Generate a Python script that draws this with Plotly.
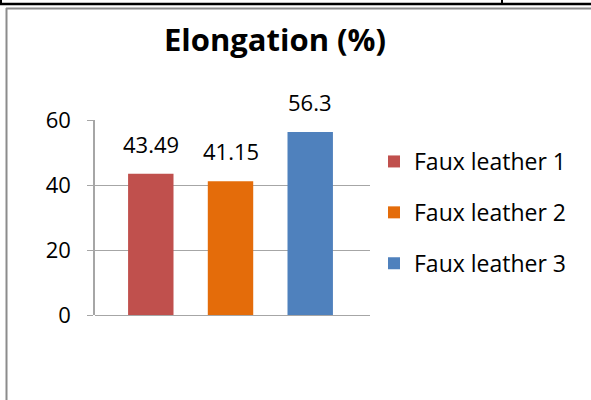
import plotly.graph_objects as go

categories = ["Faux leather 1", "Faux leather 2", "Faux leather 3"]
values = [43.49, 41.15, 56.3]
value_labels = ["43.49", "41.15", "56.3"]
colors = ["#C0504D", "#E46C0A", "#4F81BD"]
tick_vals = [0, 20, 40, 60]

W, H = 591, 400
ML, MR, MT, MB = 95, 221, 120, 85
PW = W - ML - MR
PH = H - MT - MB

def px(x):
    return (x - ML) / PW

def py(y):
    return 1 - (y - MT) / PH

FONT = "Open Sans, Lato, Liberation Sans, sans-serif"

fig = go.Figure()
for i, (cat, val, col) in enumerate(zip(categories, values, colors)):
    fig.add_trace(go.Bar(
        x=[i], y=[val], name=cat, width=0.57,
        marker=dict(color=col, line=dict(width=0)),
        legendgroup=cat, showlegend=True,
    ))

annotations = []
for i, (val, lab) in enumerate(zip(values, value_labels)):
    annotations.append(dict(
        x=i, y=val, xref="x", yref="y", text=lab, showarrow=False,
        yanchor="middle", yshift=30, font=dict(size=22, color="#000000", family=FONT),
    ))

shapes = [
    dict(type="line", xref="paper", yref="paper", x0=px(0), x1=px(W), y0=py(4), y1=py(4),
         line=dict(color="#000000", width=2.5)),
    dict(type="line", xref="paper", yref="paper", x0=px(1), x1=px(1), y0=py(0), y1=py(4),
         line=dict(color="#000000", width=2)),
    dict(type="line", xref="paper", yref="paper", x0=px(502), x1=px(502), y0=py(0), y1=py(4),
         line=dict(color="#000000", width=2)),
    dict(type="line", xref="paper", yref="paper", x0=px(6), x1=px(W), y0=py(8.5), y1=py(8.5),
         line=dict(color="#8C8C8C", width=2)),
    dict(type="line", xref="paper", yref="paper", x0=px(6.5), x1=px(6.5), y0=py(8), y1=py(H),
         line=dict(color="#8C8C8C", width=2)),
]

fig.update_layout(
    width=W, height=H,
    margin=dict(l=ML, r=MR, t=MT, b=MB, autoexpand=False),
    paper_bgcolor="#FFFFFF", plot_bgcolor="#FFFFFF",
    barmode="overlay",
    title=dict(text="<b>Elongation (%)</b>", x=275 / W, xref="container", xanchor="center",
               y=1 - 40 / H, yref="container", yanchor="middle",
               font=dict(size=31, color="#000000", family=FONT)),
    xaxis=dict(range=[-0.7, 2.75], showticklabels=False, showgrid=False, zeroline=False,
               showline=False, ticks=""),
    yaxis=dict(range=[0, 60], tickvals=tick_vals, showgrid=True, gridcolor="#A6A6A6", gridwidth=1,
               zeroline=True, zerolinecolor="#A6A6A6", zerolinewidth=1,
               showline=True, linecolor="#A6A6A6", linewidth=1.5,
               ticks="outside", ticklen=6, tickcolor="#A6A6A6", ticklabelstandoff=12,
               tickfont=dict(size=22, color="#000000", family=FONT)),
    legend=dict(xref="container", yref="container", x=374 / W, y=1 - 140 / H,
                xanchor="left", yanchor="top", traceorder="grouped", tracegroupgap=18,
                font=dict(size=23, color="#000000", family=FONT), itemwidth=30),
    annotations=annotations,
    shapes=shapes,
    showlegend=True,
)

fig.write_html("out.html", config={"displayModeBar": False},
               post_script="document.body.style.margin='0';document.body.style.padding='0';")
